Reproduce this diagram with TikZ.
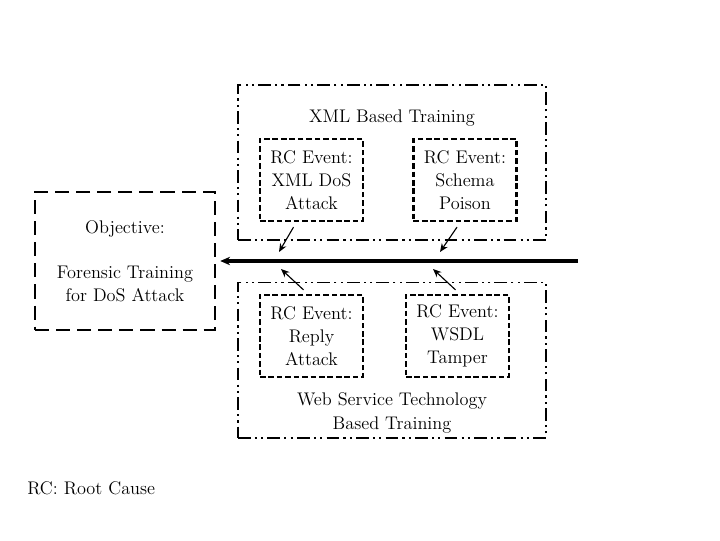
\documentclass[tikz,border=0pt]{standalone}
\usetikzlibrary{arrows.meta}

\tikzset{
  trainbox/.style={draw, line width=1.4pt, dash pattern=on 9pt off 3pt on 1.5pt off 3pt on 1.5pt off 3pt,
    minimum width=7.7cm, minimum height=3.875cm},
  eventbox/.style={draw, line width=1.6pt, dash pattern=on 4pt off 2pt,
    minimum width=2.575cm, minimum height=2.05cm, align=center, inner sep=0pt},
  objbox/.style={draw, line width=1.4pt, dash pattern=on 10pt off 5pt,
    minimum width=4.5cm, minimum height=3.45cm, align=center},
  lbl/.style={align=center, inner sep=0pt},
}

\begin{document}
\begin{tikzpicture}[x=0.025cm, y=-0.025cm, font=\fontsize{13}{16.5}\selectfont]
  \useasboundingbox (0,0) rectangle (720,540);

  % training groups
  \node[trainbox] (xmlgrp) at (392,162.5) {};
  \node[lbl] (xmltitle) at (392,118) {XML Based Training};
  \node[trainbox] (wsgrp) at (392,360) {};
  \node[lbl] (wstitle) at (392,413) {Web Service Technology\\Based Training};

  % root cause events
  \node[eventbox] (xmldos) at (311.5,180) {RC Event:\\XML DoS\\Attack};
  \node[eventbox] (schema) at (465,180) {RC Event:\\Schema\\Poison};
  \node[eventbox] (reply) at (311.5,336) {RC Event:\\Reply\\Attack};
  \node[eventbox] (wsdl) at (457.5,336) {RC Event:\\WSDL\\Tamper};

  % objective
  \node[objbox] (obj) at (125,261) {Objective:\\[15.5pt]Forensic Training\\for DoS Attack};

  % main line
  \coordinate (M0) at (578,261);
  \draw[line width=2.2pt, -{Stealth[length=7pt,width=6pt]}] (M0) -- ([xshift=3]obj.east);

  \coordinate (A1) at (279,252);
  \coordinate (A2) at (440,252);
  \coordinate (B1) at (281,269);
  \coordinate (B2) at (433,269);
  \draw[thick, -{Stealth[length=6pt,width=5pt]}] ([shift={(-18,5)}]xmldos.south) -- (A1);
  \draw[thick, -{Stealth[length=6pt,width=5pt]}] ([shift={(-8,5)}]schema.south) -- (A2);
  \draw[thick, -{Stealth[length=6pt,width=5pt]}] ([shift={(-8,-4)}]reply.north) -- (B1);
  \draw[thick, -{Stealth[length=6pt,width=5pt]}] ([shift={(-2,-4)}]wsdl.north) -- (B2);

  \node[anchor=west, inner sep=0pt] (legend) at (27,488) {RC: Root Cause};
\end{tikzpicture}
\end{document}
